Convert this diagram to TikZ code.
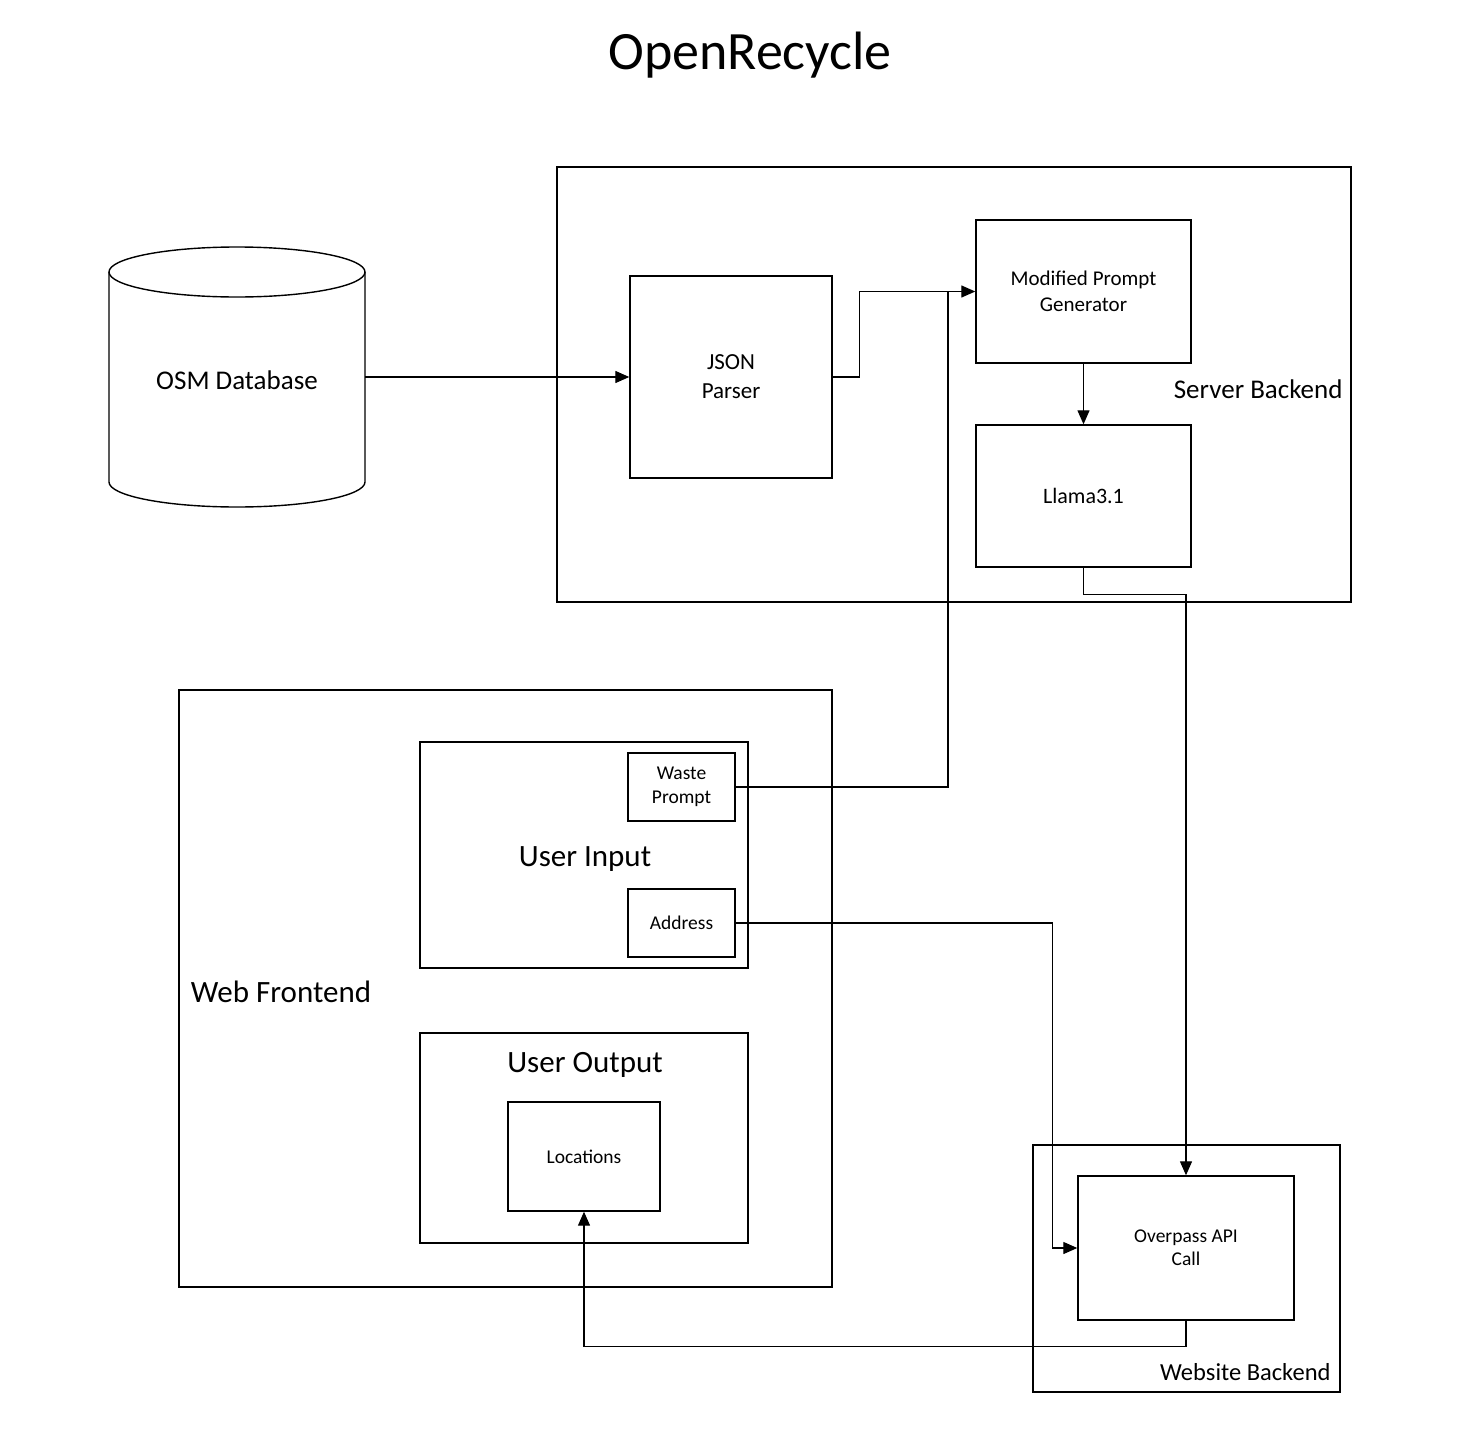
\documentclass[tikz,border=0pt]{standalone}
\usepackage{fontspec}
\setmainfont{Carlito}
\usetikzlibrary{arrows.meta}
\begin{document}
\begin{tikzpicture}[x=1pt,y=-1pt,
  box/.style={draw,line width=1.4pt,inner sep=0pt,align=center},
  area/.style={draw,line width=1.4pt},
  link/.style={line width=1.3pt},
  arr/.style={link,-{Triangle[length=14pt,width=12pt]}}]
\useasboundingbox (0,0) rectangle (1462,1440);
\node[font=\fontsize{54}{60}\selectfont] (title) at (750,55) {OpenRecycle};
% server backend
\draw[area] (557,167) rectangle (1351,602);
\node[anchor=east,font=\fontsize{27}{32}\selectfont] (srvlbl) at (1346,389) {Server Backend};
\node[box,minimum width=202pt,minimum height=202pt,font=\fontsize{23}{29}\selectfont,text depth=0pt] (json) at (731,377) {JSON\\Parser};
\node[box,minimum width=215pt,minimum height=143pt,font=\fontsize{21}{26}\selectfont] (mpg) at (1083.5,291.5) {Modified Prompt\\Generator};
\node[box,minimum width=215pt,minimum height=142pt,font=\fontsize{22}{26}\selectfont] (llama) at (1083.5,496) {Llama3.1};
% database
\draw[area,fill=white] (109,272) -- (109,482) arc[start angle=180,end angle=0,x radius=128,y radius=25] -- (365,272);
\draw[area] (237,272) ellipse[x radius=128,y radius=25];
\node[minimum width=256pt,font=\fontsize{27}{32}\selectfont] (osm) at (237,377) {};
\node[font=\fontsize{27}{32}\selectfont] (osmlbl) at (237,380) {OSM Database};
% web frontend
\draw[area] (179,690) rectangle (832,1287);
\node[font=\fontsize{31}{36}\selectfont] (weblbl) at (281,992) {Web Frontend};
\draw[area] (420,742) rectangle (748,968);
\node[font=\fontsize{31}{36}\selectfont] (inlbl) at (585,859) {User Input};
\node[box,minimum width=107pt,minimum height=68pt,font=\fontsize{19.5}{24}\selectfont] (waste) at (681.5,787) {Waste\\Prompt};
\node[box,minimum width=107pt,minimum height=68pt,font=\fontsize{19.5}{24}\selectfont] (address) at (681.5,923) {Address};
\draw[area] (420,1033) rectangle (748,1243);
\node[font=\fontsize{31}{36}\selectfont] (outlbl) at (585,1065) {User Output};
\node[box,minimum width=152pt,minimum height=109pt,font=\fontsize{19.5}{24}\selectfont] (locations) at (584,1156.5) {Locations};
% website backend
\draw[area] (1033,1145) rectangle (1340,1392);
\node[anchor=east,font=\fontsize{24.5}{30}\selectfont] (weblbl2) at (1334,1372) {Website Backend};
\node[box,minimum width=216pt,minimum height=144pt,font=\fontsize{19.5}{23}\selectfont] (overpass) at (1186,1248) {Overpass API\\Call};
% connectors
\coordinate (join) at (948,291.5);
\draw[arr] (osm.east) -- (json.west);
\draw[arr] (json.east) -- ++(27,0) |- (mpg.west);
\draw[link] (waste.east) -| (join);
\draw[arr] (mpg.south) -- (llama.north);
\draw[arr] (llama.south) -- ++(0,27) -| (overpass.north);
\draw[arr] (address.east) -- ++(317,0) |- (overpass.west);
\draw[arr] (overpass.south) -- ++(0,26) -| (locations.south);
\end{tikzpicture}
\end{document}
